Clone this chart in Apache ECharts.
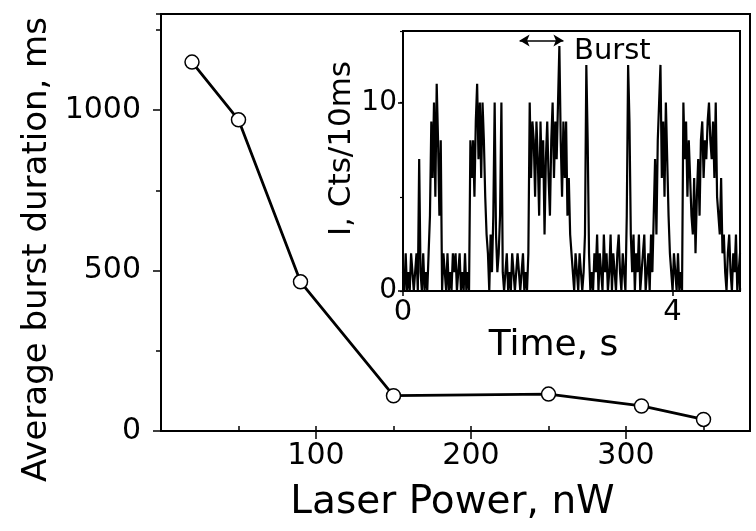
<!DOCTYPE html>
<html><head><meta charset="utf-8">
<script src="https://cdn.jsdelivr.net/npm/echarts@6/dist/echarts.min.js"></script>
<style>html,body{margin:0;padding:0;background:#fff}#c{width:756px;height:531px}</style>
</head><body><div id="c"></div>
<script>
// Main plot data
const laserPower = [20, 50, 90, 150, 250, 310, 350];
const burstDuration = [1150, 970, 465, 110, 115, 78, 36];
const mainXTickLabels = [100, 200, 300];
const mainYTickLabels = [0, 500, 1000];

// Inset trace: counts per time bin
const binWidth = 0.02; // s
const counts = [
  1,0,2,0,1,0,2,1,0,1,2,0,7,1,0,2,0,1,0,2,
  4,9,6,10,5,11,8,4,8,
  0,2,1,0,2,0,1,0,2,1,2,0,1,2,0,1,0,2,0,1,0,
  8,6,8,5,9,11,7,10,6,10,8,5,3,
  2,0,3,1,4,10,3,1,2,4,10,1,
  0,1,2,0,1,0,2,1,0,0,2,1,0,1,2,0,1,0,2,
  10,6,9,8,5,9,7,4,9,6,8,3,7,9,6,4,8,10,6,9,7,10,13,8,5,9,6,9,4,6,3,2,
  1,0,2,1,0,2,1,0,1,3,12,8,2,0,1,0,2,
  1,3,0,2,1,0,3,1,2,0,1,3,0,2,1,0,2,3,1,0,2,1,0,
  4,12,9,3,
  1,3,0,2,1,3,0,1,2,3,0,1,2,0,3,1,
  4,7,3,8,10,12,6,9,5,10,7,4,2,1,
  0,2,1,0,2,0,1,0,
  10,7,9,5,8,6,4,3,6,2,5,7,4,8,9,6,8,7,9,10,8,7,9,6,10,5,4,3,6,2,3,
  1,0,2,3,1,0,2,1,3,0,1,2
];
const insetXTickLabels = [0, 4];
const insetYTickLabels = [0, 10];
const burstArrow = [[1.73, 13.3], [2.38, 13.3]];
const burstLabelAt = [2.53, 12.74];

const FONT = 'DejaVu Sans';
const chart = echarts.init(document.getElementById('c'), null, {renderer: 'canvas'});

const trace = counts.map((v, i) => [+(i * binWidth).toFixed(2), v]);
const mainPts = laserPower.map((x, i) => [x, burstDuration[i]]);

function baseAxis(extra) {
  return Object.assign({
    type: 'value',
    axisLine: {show: true, lineStyle: {color: '#000', width: 2}},
    splitLine: {show: false},
    axisLabel: {color: '#000', fontFamily: FONT},
  }, extra);
}

const option = {
  backgroundColor: '#fff',
  animation: false,
  grid: [
    {left: 161, top: 14, width: 589, height: 417, show: true, borderColor: '#000', borderWidth: 2, backgroundColor: 'transparent'},
    {left: 403, top: 31, width: 337, height: 260, show: true, borderColor: '#000', borderWidth: 2, backgroundColor: '#fff', z: 5}
  ],
  xAxis: [
    baseAxis({gridIndex: 0, min: 0, max: 380, interval: 100,
      axisTick: {show: true, length: 8, lineStyle: {color: '#000', width: 1.5}},
      axisLabel: {color: '#000', fontFamily: FONT, fontSize: 30, margin: 10, showMinLabel: false, showMaxLabel: false,
        formatter: v => mainXTickLabels.includes(v) ? String(v) : ''},
      name: 'Laser Power, nW', nameLocation: 'middle', nameGap: 52,
      nameTextStyle: {color: '#000', fontFamily: FONT, fontSize: 39, padding: [0, 6, 0, 0]}}),
    baseAxis({gridIndex: 0, min: 0, max: 380, interval: 50, axisLine: {show: false},
      axisTick: {show: true, length: 5, lineStyle: {color: '#000', width: 1.5}},
      axisLabel: {show: false}}),
    baseAxis({gridIndex: 1, min: 0, max: 5, interval: 4,
      axisTick: {show: true, length: 5, lineStyle: {color: '#000', width: 1.5}},
      axisLabel: {color: '#000', fontFamily: FONT, fontSize: 29, margin: 7, showMaxLabel: false,
        formatter: v => insetXTickLabels.includes(v) ? String(v) : ''},
      name: 'Time, s', nameLocation: 'middle', nameGap: 31,
      nameTextStyle: {color: '#000', fontFamily: FONT, fontSize: 36, padding: [0, 36, 0, 0]}}),
    baseAxis({gridIndex: 1, min: 0, max: 5, interval: 2, axisLine: {show: false},
      axisTick: {show: true, length: 3, lineStyle: {color: '#000', width: 1.2}},
      axisLabel: {show: false}})
  ],
  yAxis: [
    baseAxis({gridIndex: 0, min: 0, max: 1300, interval: 500,
      axisTick: {show: true, length: 8, lineStyle: {color: '#000', width: 1.5}},
      axisLabel: {color: '#000', fontFamily: FONT, fontSize: 30, margin: 20, showMaxLabel: false,
        formatter: v => mainYTickLabels.includes(v) ? String(v) : ''},
      name: 'Average burst duration, ms', nameLocation: 'middle', nameGap: 104,
      nameTextStyle: {color: '#000', fontFamily: FONT, fontSize: 34, padding: [0, 54, 0, 0]}}),
    baseAxis({gridIndex: 0, min: 0, max: 1300, interval: 250, position: 'left', axisLine: {show: false},
      axisTick: {show: true, length: 5, lineStyle: {color: '#000', width: 1.5}},
      axisLabel: {show: false}}),
    baseAxis({gridIndex: 1, min: 0, max: 13.8, interval: 10,
      axisTick: {show: true, length: 5, lineStyle: {color: '#000', width: 1.5}},
      axisLabel: {color: '#000', fontFamily: FONT, fontSize: 28, margin: 6, showMaxLabel: false,
        formatter: v => insetYTickLabels.includes(v) ? String(v) : ''},
      name: 'I, Cts/10ms', nameLocation: 'middle', nameGap: 46,
      nameTextStyle: {color: '#000', fontFamily: FONT, fontSize: 31, padding: [0, 0, 0, 25]}}),
    baseAxis({gridIndex: 1, min: 0, max: 13.8, interval: 5, position: 'left', axisLine: {show: false},
      axisTick: {show: true, length: 3, lineStyle: {color: '#000', width: 1.2}},
      axisLabel: {show: false}})
  ],
  series: [
    {
      type: 'line', xAxisIndex: 0, yAxisIndex: 0, data: mainPts,
      symbol: 'circle', symbolSize: 14,
      lineStyle: {color: '#000', width: 2.8},
      itemStyle: {color: '#fff', borderColor: '#000', borderWidth: 1.5},
      z: 3
    },
    {
      type: 'line', xAxisIndex: 2, yAxisIndex: 2, data: trace,
      showSymbol: false, symbol: 'none',
      lineStyle: {color: '#000', width: 2.2},
      z: 6,
      markLine: {
        silent: true, symbol: ['arrow', 'arrow'], symbolSize: [9, 10],
        lineStyle: {color: '#000', width: 1.5, type: 'solid'},
        label: {show: false},
        data: [[{coord: burstArrow[0]}, {coord: burstArrow[1]}]]
      },
      markPoint: {
        silent: true, symbol: 'rect', symbolSize: 1,
        itemStyle: {color: 'rgba(0,0,0,0)'},
        label: {show: true, position: 'right', distance: 0, formatter: 'Burst', color: '#000', fontFamily: FONT, fontSize: 29},
        data: [{coord: burstLabelAt}]
      }
    }
  ]
};
chart.setOption(option);
</script>
</body></html>
